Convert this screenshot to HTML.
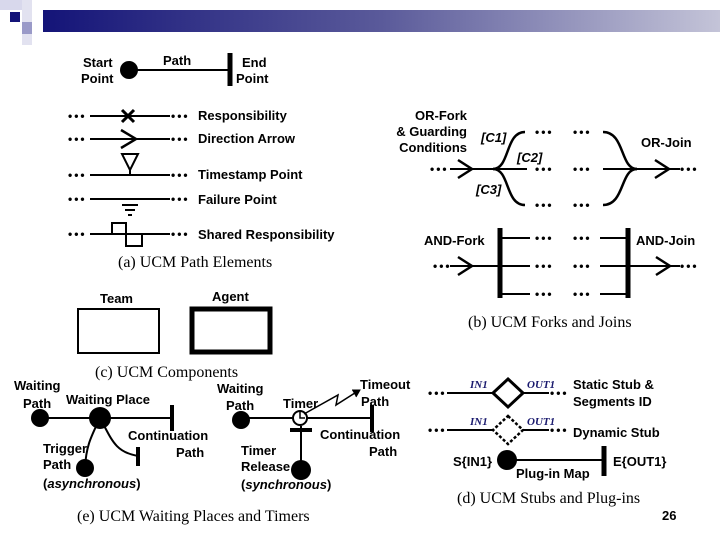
<!DOCTYPE html>
<html><head><meta charset="utf-8"><style>
html,body{margin:0;padding:0;background:#fff;}
svg{display:block;}
.b{font-family:"Liberation Sans",sans-serif;font-weight:bold;font-size:13px;fill:#000;}
.s{font-family:"Liberation Serif",serif;font-size:16px;fill:#000;}
.i{font-family:"Liberation Serif",serif;font-style:italic;font-weight:bold;font-size:11px;fill:#1a1a6e;}
</style></head><body>
<svg width="720" height="540" viewBox="0 0 720 540" xmlns="http://www.w3.org/2000/svg">
<defs><linearGradient id="g" x1="0" x2="1"><stop offset="0" stop-color="#141478"/><stop offset="0.5" stop-color="#5a5a9a"/><stop offset="1" stop-color="#c4c4d8"/></linearGradient></defs>
<rect x="0" y="0" width="28" height="10" fill="#d8d8ec"/>
<rect x="22" y="0" width="10" height="45" fill="#e2e2f0"/>
<rect x="10" y="12" width="10" height="10" fill="#141478"/>
<rect x="22" y="22" width="10" height="12" fill="#9a9ac8"/>
<rect x="43" y="10" width="677" height="22" fill="url(#g)"/>

<g stroke="#000" fill="none" stroke-width="2">
<line x1="130" y1="70" x2="230" y2="70"/>
<line x1="230" y1="53" x2="230" y2="86" stroke-width="5"/>
<line x1="90" y1="116" x2="170" y2="116"/><line x1="90" y1="139" x2="170" y2="139"/>
<line x1="90" y1="175" x2="170" y2="175"/><line x1="90" y1="199" x2="170" y2="199"/>
<line x1="90" y1="234" x2="170" y2="234"/>
<path d="M122 110 L134 122 M134 110 L122 122" stroke-width="3"/>
<path d="M121 130 L136 139 L121 148" stroke-width="2.5"/>
<path d="M122 154 L138 154 L130 170 Z M130 170 L130 175" stroke-width="2"/>
<path d="M122 205 L138 205 M125 210 L135 210 M128 215 L132 215"/>
<path d="M112 234 L112 223 L126 223 L126 246 L142 246 L142 234"/>
<line x1="450" y1="169" x2="527" y2="169"/>
<path d="M458 160 L472 169 L458 178" stroke-width="2.5"/>
<path d="M493 169 C510 169 505 132 525 132" stroke-width="2.5"/>
<path d="M493 169 C510 169 505 205 525 205" stroke-width="2.5"/>
<line x1="603" y1="169" x2="680" y2="169"/>
<path d="M603 132 C625 132 620 169 637 169" stroke-width="2.5"/>
<path d="M603 205 C625 205 620 169 637 169" stroke-width="2.5"/>
<path d="M655 160 L669 169 L655 178" stroke-width="2.5"/>
<line x1="500" y1="228" x2="500" y2="298" stroke-width="5"/>
<line x1="628" y1="228" x2="628" y2="298" stroke-width="5"/>
<line x1="450" y1="266" x2="530" y2="266"/>
<line x1="500" y1="238" x2="530" y2="238"/><line x1="500" y1="294" x2="530" y2="294"/>
<line x1="600" y1="238" x2="628" y2="238"/><line x1="600" y1="266" x2="680" y2="266"/><line x1="600" y1="294" x2="628" y2="294"/>
<path d="M458 257 L472 266 L458 275" stroke-width="2.5"/>
<path d="M656 257 L670 266 L656 275" stroke-width="2.5"/>
<rect x="78" y="309" width="81" height="44" stroke-width="2"/>
<rect x="192" y="309" width="78" height="43" stroke-width="5"/>
<line x1="40" y1="418" x2="172" y2="418"/>
<line x1="172" y1="405" x2="172" y2="431" stroke-width="4"/>
<path d="M100 418 C92 435 86 445 85 468"/>
<path d="M100 418 C112 440 115 452 138 456"/>
<line x1="138" y1="447" x2="138" y2="466" stroke-width="4"/>
<line x1="241" y1="418" x2="372" y2="418"/>
<line x1="372" y1="405" x2="372" y2="432" stroke-width="4"/>
<line x1="301" y1="426" x2="301" y2="470"/>
<line x1="290" y1="430" x2="312" y2="430" stroke-width="4"/>
<circle cx="300" cy="418" r="7" fill="#fff"/>
<path d="M300 412 L300 418 L305 418" stroke-width="1.5"/>
<path d="M304 414 L338 395 L336 405 L358 391" stroke-width="1.5"/>
<path d="M352 390 L360 390 L356 397" fill="#000" stroke-width="1"/>
<line x1="447" y1="393" x2="549" y2="393"/>
<path d="M508 379 L523 393 L508 407 L493 393 Z" fill="#fff" stroke-width="3"/>
<line x1="447" y1="430" x2="549" y2="430"/>
<path d="M508 416 L523 430 L508 444 L493 430 Z" fill="#fff" stroke-width="2.5" stroke-dasharray="3,2"/>
<line x1="507" y1="460" x2="604" y2="460"/>
<line x1="604" y1="446" x2="604" y2="476" stroke-width="5"/>
</g>
<g fill="#000">
<circle cx="129" cy="70" r="9"/>
<circle cx="40" cy="418" r="9"/><circle cx="100" cy="418" r="11"/><circle cx="85" cy="468" r="9"/>
<circle cx="241" cy="420" r="9"/><circle cx="301" cy="470" r="10"/>
<circle cx="507" cy="460" r="10"/>
</g>
<g class="b" style="font-size:12px;letter-spacing:2px">
<text x="68" y="120">•••</text><text x="171" y="120">•••</text>
<text x="68" y="143">•••</text><text x="171" y="143">•••</text>
<text x="68" y="179">•••</text><text x="171" y="179">•••</text>
<text x="68" y="203">•••</text><text x="171" y="203">•••</text>
<text x="68" y="238">•••</text><text x="171" y="238">•••</text>
<text x="430" y="173">•••</text>
<text x="535" y="136">•••</text><text x="573" y="136">•••</text>
<text x="535" y="173">•••</text><text x="573" y="173">•••</text>
<text x="535" y="209">•••</text><text x="573" y="209">•••</text>
<text x="680" y="173">•••</text>
<text x="433" y="270">•••</text>
<text x="535" y="242">•••</text><text x="573" y="242">•••</text>
<text x="535" y="270">•••</text><text x="573" y="270">•••</text>
<text x="535" y="298">•••</text><text x="573" y="298">•••</text>
<text x="680" y="270">•••</text>
<text x="428" y="397">•••</text><text x="550" y="397">•••</text>
<text x="428" y="434">•••</text><text x="550" y="434">•••</text>
</g>
<g class="b">
<text x="83" y="67">Start</text><text x="81" y="83">Point</text>
<text x="163" y="65">Path</text>
<text x="242" y="67">End</text><text x="236" y="83">Point</text>
<text x="198" y="120">Responsibility</text>
<text x="198" y="143">Direction Arrow</text>
<text x="198" y="179">Timestamp Point</text>
<text x="198" y="204">Failure Point</text>
<text x="198" y="239">Shared Responsibility</text>
<text x="467" y="120" text-anchor="end">OR-Fork</text>
<text x="467" y="136" text-anchor="end">&amp; Guarding</text>
<text x="467" y="152" text-anchor="end">Conditions</text>
<text x="641" y="147">OR-Join</text>
<text x="424" y="245">AND-Fork</text>
<text x="636" y="245">AND-Join</text>
<text x="100" y="303">Team</text><text x="212" y="301">Agent</text>
<text x="14" y="390">Waiting</text><text x="23" y="408">Path</text>
<text x="66" y="404">Waiting Place</text>
<text x="128" y="440">Continuation</text><text x="176" y="457">Path</text>
<text x="43" y="453">Trigger</text><text x="43" y="469">Path</text>
<text x="43" y="488">(<tspan font-style="italic">asynchronous</tspan>)</text>
<text x="217" y="393">Waiting</text><text x="226" y="410">Path</text>
<text x="283" y="408">Timer</text>
<text x="360" y="389">Timeout</text><text x="361" y="406">Path</text>
<text x="320" y="439">Continuation</text><text x="369" y="456">Path</text>
<text x="241" y="455">Timer</text><text x="241" y="471">Release</text>
<text x="241" y="489">(<tspan font-style="italic">synchronous</tspan>)</text>
<text x="573" y="389">Static Stub &amp;</text>
<text x="573" y="406">Segments ID</text>
<text x="573" y="437">Dynamic Stub</text>
<text x="453" y="466">S{IN1}</text>
<text x="516" y="478">Plug-in Map</text>
<text x="613" y="466">E{OUT1}</text>
<text x="662" y="520">26</text>
</g>
<g class="b" style="font-style:italic">
<text x="481" y="142">[C1]</text><text x="517" y="162">[C2]</text><text x="476" y="194">[C3]</text>
</g>
<g class="i">
<text x="470" y="388">IN1</text><text x="527" y="388">OUT1</text>
<text x="470" y="425">IN1</text><text x="527" y="425">OUT1</text>
</g>
<g class="s">
<text x="118" y="267">(a) UCM Path Elements</text>
<text x="468" y="327">(b) UCM Forks and Joins</text>
<text x="95" y="377">(c) UCM Components</text>
<text x="77" y="521">(e) UCM Waiting Places and Timers</text>
<text x="457" y="503">(d) UCM Stubs and Plug-ins</text>
</g>
</svg>
</body></html>
